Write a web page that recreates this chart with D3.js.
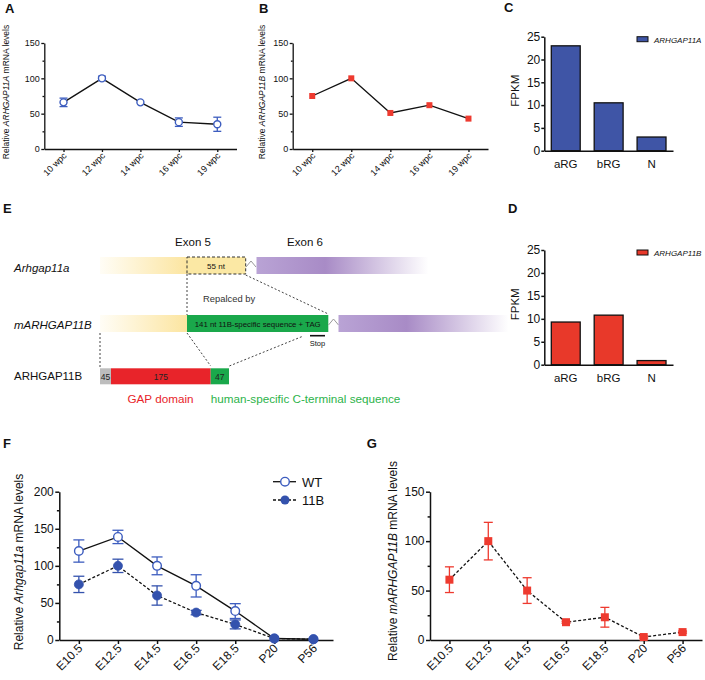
<!DOCTYPE html>
<html><head><meta charset="utf-8">
<script src="https://cdn.jsdelivr.net/npm/d3@7"></script>
<style>body{margin:0;background:#fff}svg{display:block;font-family:"Liberation Sans",Arial,Helvetica,sans-serif}</style>
</head><body><svg id="fig" width="705" height="680"></svg>
<script>
// ---------------- DATA ----------------
const wpcLabels = ["10 wpc","12 wpc","14 wpc","16 wpc","19 wpc"];
const a11aMean = [66,100,66,38,35];
const a11aErr  = [6,3,0,6,10];
const a11bMean = [75,100,51,62,43];
const a11bErr  = [0,0,0,0,0];
const cellTypes = ["aRG","bRG","N"];
const fpkm11A = [23,10.5,3];
const fpkm11B = [9.3,10.8,0.9];
const mouseStages = ["E10.5","E12.5","E14.5","E16.5","E18.5","P20","P56"];
const wtMean = [120,139,100,73,39,2,1];
const wtErr  = [15,9,12,15,10,0,0];
const kiMean = [75,100,60,37,21,2,1];
const kiErr  = [11,9,13,3,6,0,0];
const m11bMean = [61,100,50,18,23,3,8];
const m11bErr  = [13,19,13,1,10,1,1];
const proteinSegments = ["45","175","47"];

// ---------------- SETUP ----------------
const svg = d3.select("#fig");
svg.append("rect").attr("width",705).attr("height",680).attr("fill","#fff");
const BLUE="#3d5dbf", BLUE_D="#3452ad", RED="#ee3a2f", BAR_BLUE="#3f55a6", BAR_RED="#e8392a";

function panelLabel(t,x,y){
  svg.append("text").attr("x",x).attr("y",y).attr("font-size",13).attr("font-weight","bold").attr("fill","#111").text(t);
}
function yLabel(x,y,size,pre,it,post){
  const t = svg.append("text").attr("transform",`translate(${x},${y}) rotate(-90)`)
    .attr("text-anchor","middle").attr("font-size",size).attr("fill","#111");
  t.append("tspan").text(pre);
  if(it) t.append("tspan").attr("font-style","italic").text(it);
  if(post) t.append("tspan").text(post);
}
function styleAxis(sel,size,sw){
  sel.attr("font-size",size).attr("font-family",null);
  sel.selectAll("path,line").attr("stroke","#111").attr("stroke-width",sw);
  sel.selectAll("text").attr("fill","#111");
}

function linePanel(o){
  const x = d3.scalePoint().domain(o.cats).range([o.x0,o.x1]).padding(0.5);
  const y = d3.scaleLinear().domain([0,o.yMax]).range([o.yb,o.yt]);
  const g = svg.append("g");
  const ya = g.append("g").attr("transform",`translate(${o.x0},0)`)
    .call(d3.axisLeft(y).tickValues(o.yTicks).tickSizeInner(o.tick).tickSizeOuter(0).tickPadding(1.5));
  styleAxis(ya,o.font,o.sw);
  const ym = g.append("g").attr("transform",`translate(${o.x0},0)`)
    .call(d3.axisLeft(y).tickValues(o.minor).tickSize(o.tick*0.6).tickFormat(""));
  ym.select(".domain").remove();
  styleAxis(ym,o.font,o.sw);
  const xa = g.append("g").attr("transform",`translate(0,${o.yb})`)
    .call(d3.axisBottom(x).tickSizeInner(o.tick).tickSizeOuter(0));
  styleAxis(xa,o.xfont,o.sw);
  xa.selectAll("text").attr("x",0).attr("y",0).attr("dy","0.35em")
    .attr("transform",`translate(1,${o.tick+2}) rotate(-45)`).attr("text-anchor","end");
  const line = d3.line().x((d,i)=>x(o.cats[i])).y(d=>y(d));
  o.series.forEach(s=>{
    g.append("path").datum(s.mean).attr("d",line).attr("fill","none")
      .attr("stroke","#111").attr("stroke-width",1.3).attr("stroke-dasharray",s.dash||null);
  });
  o.series.forEach(s=>{
    const pts = s.mean.map((m,i)=>({c:o.cats[i],m,e:s.err[i]}));
    const eb = g.append("g").attr("stroke",s.color).attr("stroke-width",1.3);
    pts.filter(p=>p.e>0).forEach(p=>{
      const cx=x(p.c);
      eb.append("line").attr("x1",cx).attr("x2",cx).attr("y1",y(p.m-p.e)).attr("y2",y(p.m+p.e));
      [p.m-p.e,p.m+p.e].forEach(v=>eb.append("line").attr("x1",cx-s.cap).attr("x2",cx+s.cap).attr("y1",y(v)).attr("y2",y(v)));
    });
    if(s.shape==="square"){
      g.selectAll(null).data(pts).join("rect")
        .attr("x",p=>x(p.c)-s.size/2).attr("y",p=>y(p.m)-s.size/2)
        .attr("width",s.size).attr("height",s.size).attr("fill",s.color);
    } else {
      g.selectAll(null).data(pts).join("circle")
        .attr("cx",p=>x(p.c)).attr("cy",p=>y(p.m)).attr("r",s.size)
        .attr("fill",s.open?"#fff":s.color).attr("stroke",s.color).attr("stroke-width",s.open?1.4:0.8);
    }
  });
  return {x,y};
}

function barPanel(o){
  const x = d3.scaleBand().domain(cellTypes).range([544.3,673]).paddingInner(0.326).paddingOuter(0.163);
  const y = d3.scaleLinear().domain([0,25]).range([o.yb,o.yt]);
  const g = svg.append("g");
  g.selectAll(null).data(o.values).join("rect")
    .attr("x",(d,i)=>x(cellTypes[i])).attr("width",x.bandwidth())
    .attr("y",d=>y(d)).attr("height",d=>y(0)-y(d))
    .attr("fill",o.color).attr("stroke","#111").attr("stroke-width",1.3);
  const ya = g.append("g").attr("transform",`translate(544.3,0)`)
    .call(d3.axisLeft(y).tickValues([0,5,10,15,20,25]).tickSizeInner(3).tickSizeOuter(0).tickPadding(1));
  styleAxis(ya,12,1.5);
  const xa = g.append("g").attr("transform",`translate(0,${o.yb})`)
    .call(d3.axisBottom(x).tickSizeInner(0).tickSizeOuter(0).tickPadding(9));
  styleAxis(xa,11.5,1.5);
  yLabel(519,(o.yb+o.yt)/2-3,11.5,"FPKM");
  g.append("rect").attr("x",637).attr("y",o.yt).attr("width",11).attr("height",5)
    .attr("fill",o.color).attr("stroke","#111").attr("stroke-width",1);
  g.append("text").attr("x",654).attr("y",o.yt+6).attr("font-size",8).attr("font-style","italic").attr("fill","#111").text(o.legend);
}

// ---------------- PANEL A ----------------
panelLabel("A",5,13);
linePanel({cats:wpcLabels,x0:44.3,x1:236.5,yb:149,yt:43,yMax:150,yTicks:[0,50,100,150],minor:[25,75,125],
  tick:3,font:9,xfont:9,sw:1.3,
  series:[{mean:a11aMean,err:a11aErr,color:BLUE,shape:"circle",open:true,size:3.5,cap:4}]});
yLabel(9,92,8.5,"Relative ","ARHGAP11A"," mRNA levels");

// ---------------- PANEL B ----------------
panelLabel("B",259,13);
linePanel({cats:wpcLabels,x0:292.7,x1:488,yb:149,yt:43,yMax:150,yTicks:[0,50,100,150],minor:[25,75,125],
  tick:3,font:9,xfont:9,sw:1.3,
  series:[{mean:a11bMean,err:a11bErr,color:RED,shape:"square",size:6,cap:3}]});
yLabel(265,92,8.5,"Relative ","ARHGAP11B"," mRNA levels");

// ---------------- PANEL C / D ----------------
panelLabel("C",504,12);
barPanel({values:fpkm11A,color:BAR_BLUE,yb:150.7,yt:36.7,legend:"ARHGAP11A"});
panelLabel("D",508,213);
barPanel({values:fpkm11B,color:BAR_RED,yb:364.7,yt:250,legend:"ARHGAP11B"});

// ---------------- PANEL E ----------------
panelLabel("E",3,213);
const defs = svg.append("defs");
const yg = defs.append("linearGradient").attr("id","yellowGrad");
yg.append("stop").attr("offset","0%").attr("stop-color","#fffdf6");
yg.append("stop").attr("offset","100%").attr("stop-color","#fce5a0");
const pg = defs.append("linearGradient").attr("id","purpleGrad");
pg.append("stop").attr("offset","0%").attr("stop-color","#b9a3d5");
pg.append("stop").attr("offset","40%").attr("stop-color","#a88bc6");
pg.append("stop").attr("offset","100%").attr("stop-color","#ffffff");
const E = svg.append("g");
function txt(x,y,s,t,opt={}){
  return E.append("text").attr("x",x).attr("y",y).attr("font-size",s)
    .attr("text-anchor",opt.anchor||"start").attr("fill",opt.fill||"#111")
    .attr("font-style",opt.italic?"italic":null).text(t);
}
function dash(x1,y1,x2,y2){
  E.append("line").attr("x1",x1).attr("y1",y1).attr("x2",x2).attr("y2",y2)
    .attr("stroke","#444").attr("stroke-width",1).attr("stroke-dasharray","2,2");
}
function caret(x,yb){
  E.append("polyline").attr("points",`${x},${yb} ${x+5},${yb-6} ${x+10},${yb}`)
    .attr("fill","none").attr("stroke","#999").attr("stroke-width",1);
}
txt(193,245.5,11.5,"Exon 5",{anchor:"middle"});
txt(305,245.5,11.5,"Exon 6",{anchor:"middle"});
// row 1
txt(14,272,11.5,"Arhgap11a",{italic:true});
E.append("rect").attr("x",100).attr("y",257).attr("width",87).attr("height",17).attr("fill","url(#yellowGrad)");
E.append("rect").attr("x",187).attr("y",257).attr("width",58.7).attr("height",17)
  .attr("fill","#fbe8a4").attr("stroke","#333").attr("stroke-width",1).attr("stroke-dasharray","3,2");
txt(216,268.5,8,"55 nt",{anchor:"middle"});
caret(246,267);
E.append("rect").attr("x",256.5).attr("y",257).attr("width",172).attr("height",17).attr("fill","url(#purpleGrad)");
txt(203,301.7,9.4,"Repalced by",{fill:"#333"});
// row 2
txt(14,328.5,11.5,"mARHGAP11B",{italic:true});
E.append("rect").attr("x",100).attr("y",315).attr("width",87).attr("height",17).attr("fill","url(#yellowGrad)");
E.append("rect").attr("x",187).attr("y",315).attr("width",141.3).attr("height",17).attr("fill","#1aa84b");
txt(257.7,326.5,7.8,"141 nt 11B-specific sequence + TAG",{anchor:"middle"});
caret(328.5,325);
E.append("rect").attr("x",338.5).attr("y",315).attr("width",170).attr("height",17).attr("fill","url(#purpleGrad)");
E.append("line").attr("x1",310).attr("x2",325).attr("y1",335.7).attr("y2",335.7).attr("stroke","#111").attr("stroke-width",1.6);
txt(317.5,346,7.5,"Stop",{anchor:"middle"});
dash(187,274,187,315);
dash(245.7,275,328.3,314);
dash(100,333,100,367);
dash(187,333,210.7,366);
dash(301.7,336.7,229.3,366);
// row 3
txt(14,380,11.5,"ARHGAP11B");
const segX = [100,111,210.7,229];
const segCol = ["#bdbdbd","#e8242a","#1aa84b"];
proteinSegments.forEach((lab,i)=>{
  E.append("rect").attr("x",segX[i]).attr("y",368.3).attr("width",segX[i+1]-segX[i]).attr("height",16).attr("fill",segCol[i]);
  txt((segX[i]+segX[i+1])/2,379.5,8.5,lab,{anchor:"middle",fill:"#222"});
});
txt(160.5,403,11.7,"GAP domain",{anchor:"middle",fill:"#e8242a"});
txt(210.7,403,11.7,"human-specific C-terminal sequence",{fill:"#2cb34a"});

// ---------------- PANEL F ----------------
panelLabel("F",3,448);
linePanel({cats:mouseStages,x0:59.3,x1:333,yb:640,yt:491.7,yMax:200,yTicks:[0,50,100,150,200],minor:[25,75,125,175],
  tick:4,font:12,xfont:12,sw:1.5,
  series:[
    {mean:wtMean,err:wtErr,color:BLUE,shape:"circle",open:true,size:4.3,cap:5.5},
    {mean:kiMean,err:kiErr,color:BLUE_D,shape:"circle",open:false,size:4.5,cap:5.5,dash:"3,2"}
  ]});
yLabel(23,562,12,"Relative ","Arhgap11a"," mRNA levels");
// legend
const L = svg.append("g");
L.append("line").attr("x1",273).attr("x2",296).attr("y1",481.7).attr("y2",481.7).attr("stroke","#111").attr("stroke-width",1.3);
L.append("circle").attr("cx",285).attr("cy",481.7).attr("r",4.3).attr("fill","#fff").attr("stroke",BLUE).attr("stroke-width",1.4);
L.append("text").attr("x",302).attr("y",486.5).attr("font-size",13).attr("fill","#111").text("WT");
L.append("line").attr("x1",273).attr("x2",296).attr("y1",500).attr("y2",500).attr("stroke","#111").attr("stroke-width",1.3).attr("stroke-dasharray","3,2");
L.append("circle").attr("cx",285).attr("cy",500).attr("r",4.5).attr("fill",BLUE_D);
L.append("text").attr("x",302).attr("y",505).attr("font-size",13).attr("fill","#111").text("11B");

// ---------------- PANEL G ----------------
panelLabel("G",366.7,448);
linePanel({cats:mouseStages,x0:430,x1:702,yb:640,yt:491.7,yMax:150,yTicks:[0,50,100,150],minor:[25,75,125],
  tick:4,font:12,xfont:12,sw:1.5,
  series:[{mean:m11bMean,err:m11bErr,color:RED,shape:"square",size:8,cap:4.5,dash:"3,2"}]});
yLabel(396.5,561,12,"Relative ","mARHGAP11B"," mRNA levels");
</script></body></html>
